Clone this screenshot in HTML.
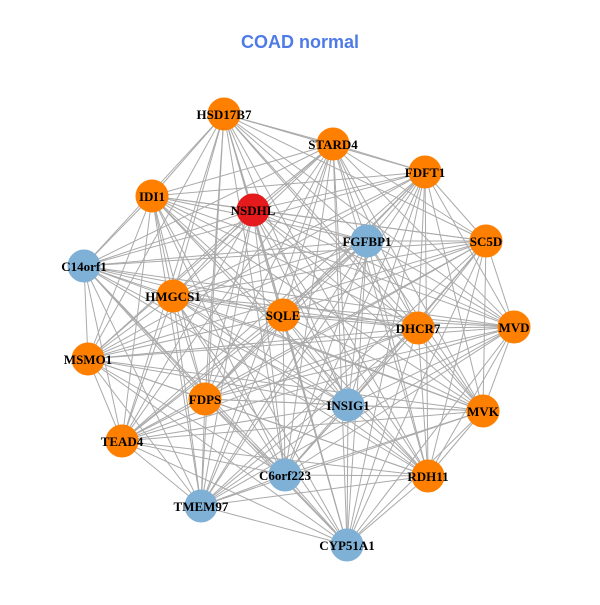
<!DOCTYPE html>
<html><head><meta charset="utf-8"><style>html,body{margin:0;padding:0;background:#fff}</style></head>
<body>
<svg id="g" width="600" height="600" xmlns="http://www.w3.org/2000/svg">
<rect width="600" height="600" fill="#fff"/>
<text x="300" y="48" text-anchor="middle" font-family="Liberation Sans, sans-serif" font-weight="bold" font-size="18" fill="#4f7be8">COAD normal</text>
<g id="edges" stroke="#aaaaaa" stroke-width="1"></g>
<g id="nodes"></g>
</svg>
<script>
var N=[["HSD17B7",224,114,"o"],["STARD4",333,144,"o"],["FDFT1",425,172,"o"],["IDI1",152,196,"o"],["NSDHL",253,210,"r"],["FGFBP1",367,241,"b"],["SC5D",486,241,"o"],["C14orf1",84,266,"b"],["HMGCS1",173,296,"o"],["SQLE",283,315,"o"],["DHCR7",418,328,"o"],["MVD",514,327,"o"],["MSMO1",88,359,"o"],["FDPS",205,399,"o"],["INSIG1",348,405,"b"],["MVK",483,411,"o"],["TEAD4",122,441,"o"],["C6orf223",285,475,"b"],["RDH11",428,476,"o"],["TMEM97",201,506,"b"],["CYP51A1",347,545,"b"]];
var ns="http://www.w3.org/2000/svg",E=document.getElementById("edges"),G=document.getElementById("nodes");
for(var i=0;i<N.length;i++)for(var j=i+1;j<N.length;j++){var l=document.createElementNS(ns,"line");l.setAttribute("x1",N[i][1]);l.setAttribute("y1",N[i][2]);l.setAttribute("x2",N[j][1]);l.setAttribute("y2",N[j][2]);E.appendChild(l);}
var col={o:"#ff7f00",r:"#e41a1c",b:"#7fb0d6"};
N.forEach(function(n){var c=document.createElementNS(ns,"circle");c.setAttribute("cx",n[1]);c.setAttribute("cy",n[2]);c.setAttribute("r",16);c.setAttribute("fill",col[n[3]]);c.setAttribute("stroke",col[n[3]]);G.appendChild(c);});
N.forEach(function(n){var t=document.createElementNS(ns,"text");t.setAttribute("x",n[1]);t.setAttribute("y",n[2]+5);t.setAttribute("text-anchor","middle");t.setAttribute("font-family","Liberation Serif, serif");t.setAttribute("font-weight","bold");t.setAttribute("font-size","13");t.textContent=n[0];G.appendChild(t);});
</script>
</body></html>
